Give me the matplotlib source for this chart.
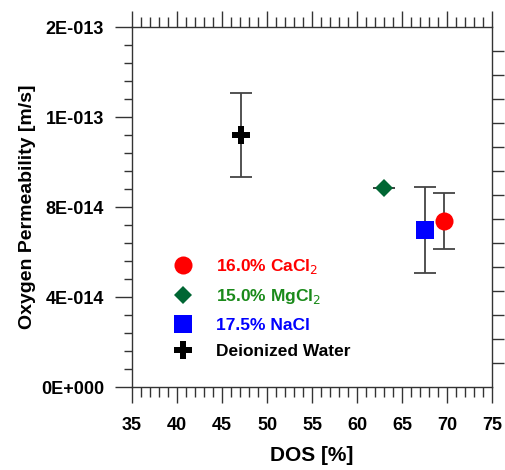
import numpy as np
import matplotlib.pyplot as plt
from matplotlib.ticker import MultipleLocator, FixedLocator

plt.rcParams['font.family'] = ['Liberation Sans', 'DejaVu Sans']

# data
labels = ["16.0% CaCl$_2$", "15.0% MgCl$_2$", "17.5% NaCl", "Deionized Water"]
dos = [69.7, 63.0, 67.6, 47.1]
perm = [7.38e-14, 8.83e-14, 6.98e-14, 1.12e-13]
perm_err = [1.23e-14, 0.0, 1.91e-14, 1.85e-14]
ytick_vals = [0, 4e-14, 8e-14, 1.2e-13, 1.6e-13]
ytick_labels = ["0E+000", "4E-014", "8E-014", "1E-013", "2E-013"]

markers = ["o", "D", "s", "P"]
colors = ["#ff0000", "#006633", "#0000ff", "#000000"]
text_colors = ["#ff0000", "#1a8a1a", "#0000ff", "#000000"]
msizes = [13, 9, 12.5, 13]

fig = plt.figure(figsize=(5.06, 4.70), dpi=100)
ax = fig.add_axes([132 / 506, 83 / 470, 360 / 506, 360 / 470])

edge = "#333333"
for i in range(len(dos)):
    ax.errorbar(dos[i], perm[i], yerr=perm_err[i], fmt="none", ecolor="#444444",
                elinewidth=1.3, capsize=8, capthick=1.3, zorder=2)
    ax.plot(dos[i], perm[i], marker=markers[i], color=colors[i], ms=msizes[i],
            mew=0, linestyle="none", label=labels[i], zorder=3)

ax.set_xlim(35, 75)
ax.set_ylim(0, 1.6e-13)
ax.xaxis.set_major_locator(MultipleLocator(5))
ax.xaxis.set_minor_locator(MultipleLocator(1))
ax.yaxis.set_major_locator(FixedLocator(ytick_vals))
ax.set_yticklabels(ytick_labels)
ax.yaxis.set_minor_locator(MultipleLocator(0.8e-14))

ax.tick_params(axis="x", which="major", direction="out", length=11.5, width=1,
               color=edge, top=True, labelsize=13, pad=10)
ax.tick_params(axis="x", which="minor", direction="out", length=7, width=1,
               color=edge, top=True)
ax.tick_params(axis="y", which="major", direction="out", length=12, width=1,
               color=edge, labelsize=13, pad=8)
ax.tick_params(axis="y", which="minor", direction="out", length=6, width=1,
               color=edge)
for t in ax.get_xticklabels() + ax.get_yticklabels():
    t.set_fontweight("bold")
for s in ax.spines.values():
    s.set_color(edge)
    s.set_linewidth(1)

# right side ticks with a different spacing
ax2 = ax.twinx()
ax2.set_ylim(0, 15)
ax2.set_yticks(range(1, 15))
ax2.tick_params(axis="y", direction="out", length=8.5, width=1, color=edge,
                labelright=False)
for s in ax2.spines.values():
    s.set_visible(False)

ax.set_xlabel("DOS [%]", fontsize=15, fontweight="bold", labelpad=9)
ax.set_ylabel("Oxygen Permeability [m/s]", fontsize=14, fontweight="bold",
              labelpad=4)

leg = ax.legend(loc="upper left", bbox_to_anchor=(0.085, 0.38), frameon=False,
                fontsize=12.5, handletextpad=1.2, labelspacing=0.65,
                borderaxespad=0, handlelength=1.5)
for txt, c in zip(leg.get_texts(), text_colors):
    txt.set_color(c)
    txt.set_fontweight("bold")

fig.savefig("out.png", dpi=100)
